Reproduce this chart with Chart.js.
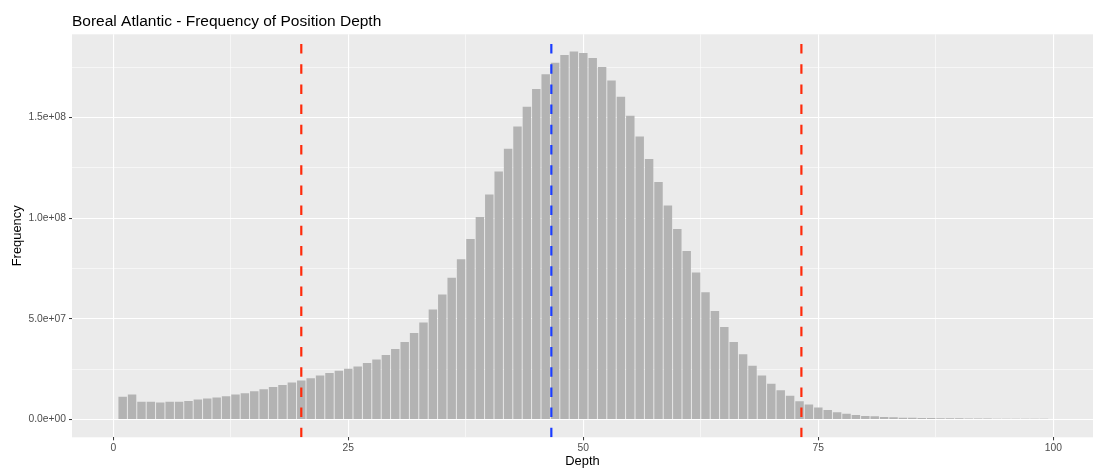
<!DOCTYPE html>
<html><head><meta charset="utf-8">
<script src="https://cdn.jsdelivr.net/npm/chart.js@4.4.1/dist/chart.umd.min.js"></script>
<style>html,body{margin:0;padding:0;background:#fff}#wrap{width:1093px;height:470px}</style>
</head><body><div id="wrap"><canvas id="c" width="1093" height="470"></canvas></div>
<script>
const depthBins = [1,2,3,4,5,6,7,8,9,10,11,12,13,14,15,16,17,18,19,20,
  21,22,23,24,25,26,27,28,29,30,31,32,33,34,35,36,37,38,39,40,
  41,42,43,44,45,46,47,48,49,50,51,52,53,54,55,56,57,58,59,60,
  61,62,63,64,65,66,67,68,69,70,71,72,73,74,75,76,77,78,79,80,
  81,82,83,84,85,86,87,88,89,90,91,92,93,94,95,96,97,98,99,100];
const frequency = [
  11.3e6,12.5e6,8.8e6,8.8e6,8.5e6,8.8e6,8.8e6,9.2e6,10.0e6,10.5e6,
  11.0e6,11.6e6,12.5e6,13.1e6,14.1e6,15.1e6,16.2e6,17.2e6,18.4e6,19.4e6,
  20.5e6,21.9e6,23.1e6,24.2e6,25.3e6,26.4e6,28.1e6,29.9e6,32.1e6,35.1e6,
  38.5e6,43.0e6,48.2e6,54.7e6,62.2e6,70.4e6,79.6e6,89.7e6,100.6e6,111.8e6,
  123.3e6,134.6e6,145.6e6,155.4e6,164.2e6,171.5e6,177.3e6,181.1e6,182.8e6,182.1e6,
  179.6e6,175.1e6,168.5e6,160.4e6,150.9e6,140.6e6,129.5e6,118.0e6,106.3e6,94.7e6,
  83.7e6,73.1e6,63.3e6,54.0e6,46.0e6,38.5e6,32.4e6,26.8e6,21.9e6,17.8e6,
  14.6e6,11.8e6,9.1e6,7.5e6,6.0e6,4.8e6,3.7e6,2.9e6,2.3e6,1.8e6,
  1.6e6,1.3e6,1.1e6,0.95e6,0.85e6,0.8e6,0.75e6,0.7e6,0.65e6,0.65e6,
  0.6e6,0.6e6,0.5e6,0.45e6,0.45e6,0.45e6,0.4e6,0.4e6,0.4e6,0.35e6];
const xMajorTicks = [0,25,50,75,100];
const xTickLabels = ['0','25','50','75','100'];
const xMinorTicks = [12.5,37.5,62.5,87.5];
const yMajorTicks = [0,5e7,1e8,1.5e8];
const yTickLabels = ['0.0e+00','5.0e+07','1.0e+08','1.5e+08'];
const yMinorTicks = [2.5e7,7.5e7,1.25e8,1.75e8];
const redLines = [20.0, 73.2];
const blueLines = [46.6];

const FONT = '"Liberation Sans", Arial, Helvetica, sans-serif';
Chart.defaults.font.family = FONT;

const panelBg = {
  id: 'panelBg',
  beforeDraw(chart) {
    const {ctx, chartArea: a} = chart;
    ctx.save();
    ctx.fillStyle = '#EBEBEB';
    ctx.fillRect(a.left, a.top, a.right - a.left, a.bottom - a.top);
    ctx.restore();
  }
};
const vlines = {
  id: 'vlines',
  afterDatasetsDraw(chart) {
    const {ctx, chartArea: a} = chart;
    const x = chart.scales.x;
    ctx.save();
    ctx.beginPath();
    ctx.rect(a.left, a.top, a.right - a.left, a.bottom - a.top);
    ctx.clip();
    ctx.lineWidth = 2.2;
    ctx.setLineDash([9.5, 10.7]);
    const draw = (v, color) => {
      const px = x.getPixelForValue(v);
      ctx.strokeStyle = color;
      ctx.beginPath();
      ctx.moveTo(px, a.bottom);
      ctx.lineTo(px, a.top);
      ctx.stroke();
    };
    redLines.forEach(v => draw(v, '#ff2a0a'));
    blueLines.forEach(v => draw(v, '#1a3cff'));
    ctx.restore();
  }
};

const isMajor = (list, v) => list.some(t => Math.abs(t - v) < 1e-6 * Math.max(1, Math.abs(t)));

new Chart(document.getElementById('c'), {
  type: 'bar',
  data: {
    datasets: [{
      data: depthBins.map((d, i) => ({x: d, y: frequency[i]})),
      backgroundColor: '#b3b3b3',
      borderWidth: 0,
      barPercentage: 0.9,
      categoryPercentage: 1.0
    }]
  },
  options: {
    responsive: false,
    animation: false,
    layout: {padding: 0},
    plugins: {
      legend: {display: false},
      tooltip: {enabled: false},
      title: {
        display: true,
        text: 'Boreal Atlantic - Frequency of Position Depth',
        align: 'start',
        fullSize: false,
        color: '#000000',
        font: {size: 15.5, weight: 'normal', lineHeight: 1.0},
        padding: {top: 13.5, bottom: 5.3}
      }
    },
    scales: {
      x: {
        type: 'linear',
        min: -4.39,
        max: 104.22,
        offset: false,
        afterBuildTicks: s => {
          s.ticks = [...xMajorTicks, ...xMinorTicks].sort((a, b) => a - b).map(v => ({value: v}));
        },
        afterFit: s => { s.height = 32.7; },
        ticks: {
          autoSkip: false,
          maxRotation: 0,
          padding: 1.5,
          color: '#4d4d4d',
          font: {size: 10.3},
          callback: v => { const i = xMajorTicks.indexOf(v); return i >= 0 ? xTickLabels[i] : ''; }
        },
        grid: {
          offset: false,
          color: '#ffffff',
          lineWidth: c => (c.tick && isMajor(xMajorTicks, c.tick.value)) ? 1.1 : 0.55,
          drawTicks: true,
          tickLength: 3,
          tickWidth: 1,
          tickColor: c => (c.tick && isMajor(xMajorTicks, c.tick.value)) ? '#333333' : 'rgba(0,0,0,0)'
        },
        border: {display: false},
        title: {
          display: true,
          text: 'Depth',
          color: '#000000',
          font: {size: 12.9},
          padding: {top: 0, bottom: 1}
        }
      },
      y: {
        min: -8.8e6,
        max: 1.914e8,
        afterBuildTicks: s => {
          s.ticks = [...yMajorTicks, ...yMinorTicks].sort((a, b) => a - b).map(v => ({value: v}));
        },
        afterFit: s => { s.width = 72; },
        ticks: {
          autoSkip: false,
          padding: 3,
          color: '#4d4d4d',
          font: {size: 10.3},
          callback: v => { const i = yMajorTicks.findIndex(t => Math.abs(t - v) < 1); return i >= 0 ? yTickLabels[i] : ''; }
        },
        grid: {
          offset: false,
          color: '#ffffff',
          lineWidth: c => (c.tick && isMajor(yMajorTicks, c.tick.value)) ? 1.1 : 0.55,
          drawTicks: true,
          tickLength: 3,
          tickWidth: 1,
          tickColor: c => (c.tick && isMajor(yMajorTicks, c.tick.value)) ? '#333333' : 'rgba(0,0,0,0)'
        },
        border: {display: false},
        title: {
          display: true,
          text: 'Frequency',
          color: '#000000',
          font: {size: 12.9},
          padding: {top: 10, bottom: 0}
        }
      }
    }
  },
  plugins: [panelBg, vlines]
});
</script>
</body></html>
